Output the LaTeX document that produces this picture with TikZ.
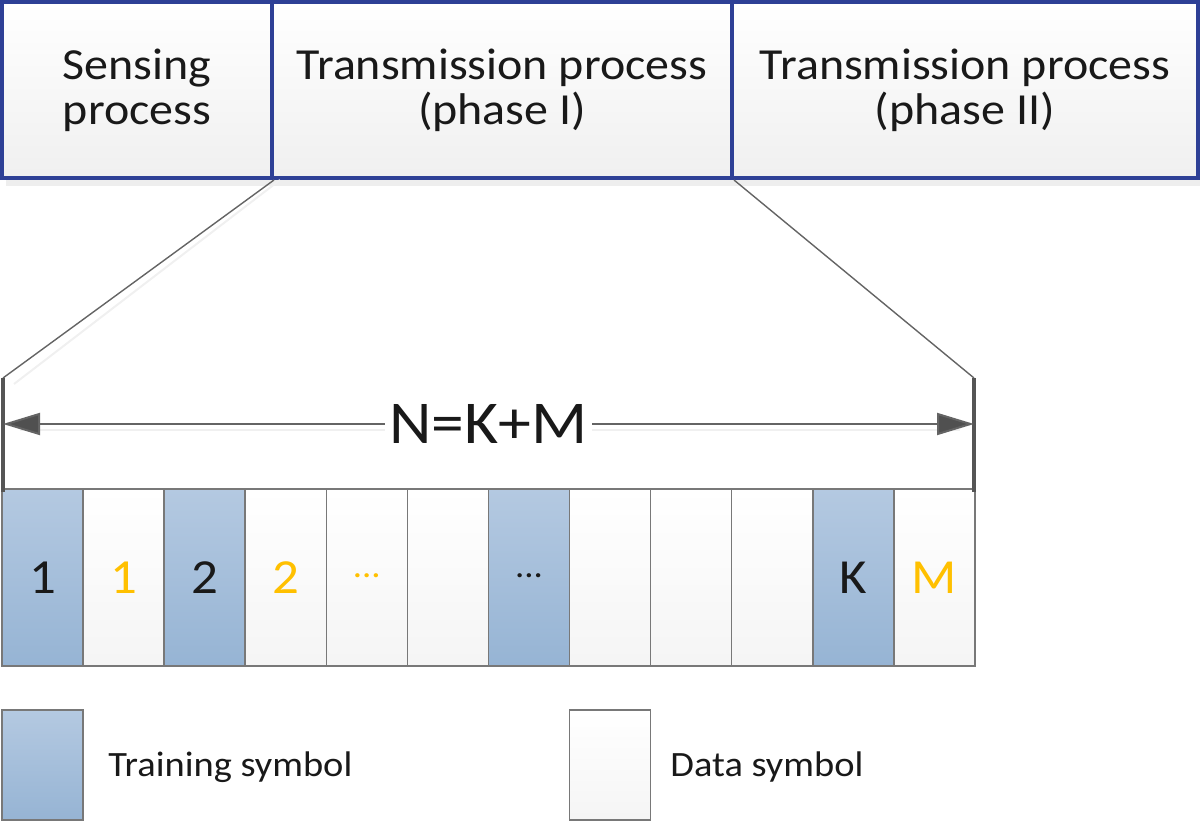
\documentclass[tikz,border=0pt]{standalone}
\usepackage{fontspec}
\setmainfont{Carlito}[FakeStretch=1.08]
\usetikzlibrary{arrows.meta}
\definecolor{boxblue}{RGB}{46,64,150}
\definecolor{celltop}{RGB}{180,201,225}
\definecolor{cellbot}{RGB}{150,180,212}
\definecolor{cellline}{RGB}{120,120,120}
\definecolor{gold}{RGB}{255,192,0}
\definecolor{txt}{RGB}{25,25,25}
\definecolor{arrowgray}{RGB}{100,100,100}
\begin{document}
\begin{tikzpicture}[x=0.5pt,y=-0.5pt,
  topbox/.style={draw=boxblue, line width=2pt, shade, top color=white, bottom color=gray!12,
    align=center, text=txt, minimum height=88pt, inner sep=0pt,
    font=\fontsize{22.2}{22.5}\selectfont},
  tcell/.style={draw=cellline, line width=0.75pt, shade, top color=celltop, bottom color=cellbot,
    minimum width=40.54pt, minimum height=88.5pt, inner sep=0pt, text=txt,
    font=\fontsize{24.5}{25}\selectfont},
  dcell/.style={draw=cellline, line width=0.75pt, shade, top color=white, bottom color=gray!8,
    minimum width=40.54pt, minimum height=88.5pt, inner sep=0pt, text=gold,
    font=\fontsize{24.5}{25}\selectfont},
  legtext/.style={anchor=west, text=txt, font=\fontsize{17.8}{20}\selectfont, inner sep=0pt},
  bar/.style={draw=arrowgray!85!black, line width=1.6pt},
  diag/.style={draw=arrowgray, line width=0.7pt}
]
\useasboundingbox (0,0) rectangle (1200,823);
% shadow under top boxes
\fill[gray!13] (6,180) rectangle (1200,186);
% top boxes
\node[topbox, minimum width=135pt] (sense) at (137,90) {Sensing\\process};
\node[topbox, minimum width=230pt] (ph1) at (502,90) {Transmission process\\(phase I)};
\node[topbox, minimum width=233pt] (ph2) at (965,90) {Transmission process\\(phase II)};

% coordinates of the bracket
\coordinate (Ltop) at (3,378);
\coordinate (Lbot) at (3,492);
\coordinate (Rtop) at (974,378);
\coordinate (Rbot) at (974,492);
\coordinate (Lmid) at (3,424);
\coordinate (Rmid) at (974,424);

% diagonals
\draw[diag] (sense.south east) -- (Ltop);
\draw[diag] (ph1.south east) -- (Rtop);
\draw[gray!12, line width=1pt] ([xshift=3pt]sense.south east) -- (14,384);

% cells
\foreach \i/\sty/\lab in {1/tcell/1,2/dcell/1,3/tcell/2,4/dcell/2,5/dcell/{\fontsize{17}{17}\selectfont\raisebox{0.1em}{...}},6/dcell/{},7/tcell/{\fontsize{17}{17}\selectfont\raisebox{0.1em}{...}},8/dcell/{},9/dcell/{},10/dcell/{},11/tcell/K,12/dcell/M}{
  \node[\sty] (c\i) at ({2+(\i-0.5)*81.08},577.5) {\lab};
}

% bracket bars
\draw[bar] (Ltop) -- (Lbot);
\draw[bar] (Rtop) -- (Rbot);

% dimension arrow
\draw[gray!12, line width=1.2pt] (20,430) -- (960,430);
\draw[draw=arrowgray, line width=1pt,
  {Triangle[length=18.5pt,width=11pt,fill=arrowgray!80!black]}-{Triangle[length=18.5pt,width=11pt,fill=arrowgray!80!black]}]
  (Lmid) -- (Rmid) node[midway, fill=white, inner sep=2pt, text=txt, font=\fontsize{30.4}{32}\selectfont] (nkm) {N=K+M};

% legend
\node[tcell, minimum height=55pt] (legT) at (42.5,765) {};
\node[legtext] (legTt) at (108,767) {Training symbol};
\node[dcell, minimum height=55pt] (legD) at (610,765) {};
\node[legtext] (legDt) at (670,767) {Data symbol};
\end{tikzpicture}
\end{document}
